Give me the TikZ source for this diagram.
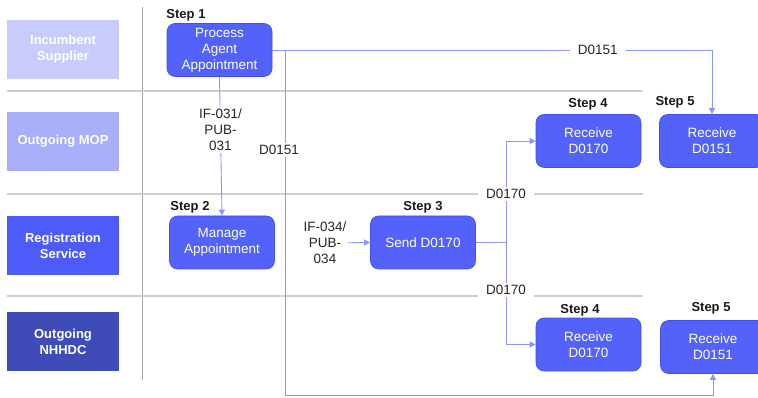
\documentclass[tikz,border=0pt]{standalone}
\usepackage{fontspec}
\setmainfont{Liberation Sans}
\usepackage{tikz}
\usetikzlibrary{arrows.meta}
\definecolor{laneA}{HTML}{C9CCFB}
\definecolor{laneB}{HTML}{A8AEF8}
\definecolor{laneC}{HTML}{4C5BF9}
\definecolor{laneD}{HTML}{3F4BB6}
\definecolor{boxblue}{HTML}{5262FA}
\definecolor{boxedge}{HTML}{4250E6}
\definecolor{flowblue}{HTML}{8E96F8}
\definecolor{sepgray}{HTML}{CFCFCF}

\begin{document}
\begin{tikzpicture}[x=1pt,y=-1pt,
  lane/.style={minimum width=112pt,minimum height=59pt,inner sep=0pt,text=white,align=center,font=\bfseries\fontsize{13}{16}\selectfont},
  task/.style={rectangle,rounded corners=8pt,fill=boxblue,draw=boxedge,line width=0.6pt,text=white,minimum width=105pt,minimum height=53pt,inner sep=0pt,align=center,font=\fontsize{13.5}{16}\selectfont},
  steplbl/.style={text=black!90,font=\bfseries\fontsize{13}{15}\selectfont},
  flow/.style={draw=flowblue,line width=0.9pt},
  arr/.style={-{Triangle[length=6pt,width=6pt]}},
  lbl/.style={fill=white,text=black!85,align=center,inner xsep=8pt,inner ysep=2pt,font=\fontsize{13.5}{16}\selectfont},
  sep/.style={draw=sepgray,line width=1.2pt}]
\useasboundingbox (0,0) rectangle (758,398);

\node[lane,fill=laneA] (incumbent) at (63,49.5) {Incumbent\\Supplier};
\node[lane,fill=laneB] (mop) at (63,141.5) {Outgoing MOP};
\node[lane,fill=laneC] (reg) at (63,246) {Registration\\Service};
\node[lane,fill=laneD] (nhhdc) at (63,341.5) {Outgoing\\NHHDC};

\draw[sep,draw=black!35,line width=0.8pt] (142,7) -- (142,380);
\draw[sep] (7,91) -- (643,91);
\draw[sep] (7,194) -- (643,194);
\draw[sep] (7,296) -- (643,296);

\node[task] (s1) at (219.5,50) {Process\\Agent\\Appointment};
\node[task] (s2) at (222,242.5) {Manage\\Appointment};
\node[task] (s3) at (423,242.5) {Send D0170};
\node[task] (s4a) at (588.5,141) {Receive\\D0170};
\node[task] (s5a) at (712,141) {Receive\\D0151};
\node[task] (s4b) at (588.5,344.5) {Receive\\D0170};
\node[task] (s5b) at (713,347) {Receive\\D0151};

\node[steplbl] (st1) at (186,15) {Step 1};
\node[steplbl] (st2) at (190,207) {Step 2};
\node[steplbl] (st3) at (423,207) {Step 3};
\node[steplbl] (st4a) at (588,104) {Step 4};
\node[steplbl] (st5a) at (675,102) {Step 5};
\node[steplbl] (st4b) at (580,310) {Step 4};
\node[steplbl] (st5b) at (711,308) {Step 5};

\coordinate (j1) at (285,50);
\coordinate (j2) at (285,395);
\coordinate (j3) at (506,242.5);

\draw[flow,arr] (s1.east) -| node[lbl,pos=0.37] {D0151} (s5a.north);
\draw[flow,arr] (j1) -- node[lbl,pos=0.29,xshift=-6pt,inner xsep=1pt] {D0151} (j2) -| (s5b.south);
\draw[flow,arr] (s1.south) -- node[lbl,pos=0.38,inner xsep=1pt] {IF-031/\\PUB-\\031} (s2.north);
\node[lbl,inner xsep=1pt] (if34) at (325,243) {IF-034/\\PUB-\\034};
\draw[flow,arr] (if34) -- (s3.west);
\draw[flow] (s3.east) -- (j3);
\draw[flow,arr] (j3) |- node[lbl,pos=0.24] {D0170} (s4a.west);
\draw[flow,arr] (j3) |- node[lbl,pos=0.233] {D0170} (s4b.west);
\end{tikzpicture}
\end{document}
